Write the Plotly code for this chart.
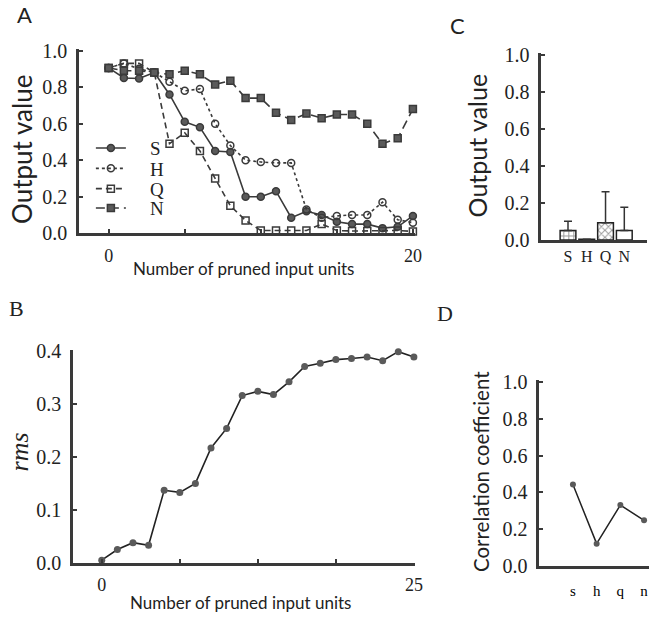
import plotly.graph_objects as go

W, H = 657, 625

# ---------------- data ----------------
# Panel A: output value vs number of pruned input units
pruned_A = [0, 1, 2, 3, 4, 5, 6, 7, 8, 9, 10, 11, 12, 13, 14, 15, 16, 17, 18, 19, 20]
S_vals = [0.905, 0.85, 0.847, 0.88, 0.76, 0.61, 0.58, 0.45, 0.445, 0.20, 0.20,
          0.23, 0.085, 0.12, 0.10, 0.063, 0.05, 0.05, 0.028, 0.035, 0.095]
H_vals = [0.905, 0.93, 0.90, 0.88, 0.83, 0.78, 0.79, 0.60, 0.48, 0.40, 0.39,
          0.385, 0.385, 0.13, 0.085, 0.095, 0.10, 0.10, 0.17, 0.074, 0.058]
Q_vals = [0.905, 0.93, 0.93, 0.88, 0.49, 0.55, 0.45, 0.30, 0.15, 0.07, 0.015,
          0.015, 0.015, 0.015, 0.05, 0.015, 0.012, 0.012, 0.012, 0.015, 0.01]
N_vals = [0.905, 0.89, 0.89, 0.88, 0.87, 0.89, 0.87, 0.815, 0.835, 0.74, 0.74,
          0.66, 0.62, 0.655, 0.63, 0.65, 0.65, 0.60, 0.49, 0.52, 0.68]

# Panel B: rms vs number of pruned input units
pruned_B = [0, 1.25, 2.5, 3.75, 5, 6.25, 7.5, 8.75, 10, 11.25, 12.5, 13.75, 15,
            16.25, 17.5, 18.75, 20, 21.25, 22.5, 23.75, 25]
rms_vals = [0.005, 0.025, 0.038, 0.033, 0.137, 0.133, 0.15, 0.217, 0.254, 0.316,
            0.324, 0.318, 0.342, 0.371, 0.377, 0.384, 0.386, 0.389, 0.382, 0.399, 0.389]

# Panel C: mean output value per class with error bars
classes_C = ["S", "H", "Q", "N"]
mean_C = [0.052, 0.004, 0.094, 0.052]
err_C = [0.05, 0.0, 0.168, 0.126]
patterns_C = ["+", "", "x", ""]

# Panel D: correlation coefficient per class
classes_D = ["s", "h", "q", "n"]
corr_D = [0.442, 0.12, 0.33, 0.247]

# ---------------- helpers ----------------
def fx(p):
    return p / W

def fy(p):
    return 1 - p / H

LINE = "#3a3a3a"
MARK = "#5a5a5a"
SERIF = "Liberation Serif"
SANS = "Lato"
NB = "\u00a0"

def tf(size):
    return dict(family=SERIF, size=size, color="#222")

fig = go.Figure()

# Panel A traces, each with its own legend row
specA = [
    ("S", S_vals, "solid", "circle", MARK, "legend", 143),
    ("H", H_vals, "dot", "circle-open", LINE, "legend2", 164),
    ("Q", Q_vals, "6px,4px", "square-open", LINE, "legend3", 185),
    ("N", N_vals, "9px,5px", "square", MARK, "legend4", 205),
]
legend_layouts = {}
for name, vals, dash, sym, mcol, leg, row in specA:
    fig.add_trace(go.Scatter(
        x=pruned_A, y=vals, name=NB * 4 + name, mode="lines+markers",
        line=dict(color=LINE, width=1.6, dash=dash),
        marker=dict(symbol=sym, size=7, color=mcol,
                    line=dict(color=LINE, width=1.5)),
        cliponaxis=False, xaxis="x", yaxis="y", showlegend=True, legend=leg,
    ))
    legend_layouts[leg] = dict(x=fx(92), y=fy(row), xanchor="left", yanchor="middle",
                               bgcolor="rgba(0,0,0,0)", borderwidth=0,
                               font=dict(family=SERIF, size=19, color="#222"),
                               itemwidth=30)

# Panel B
fig.add_trace(go.Scatter(
    x=pruned_B, y=rms_vals, mode="lines+markers",
    line=dict(color="#222", width=1.6),
    marker=dict(symbol="circle", size=7, color=MARK),
    cliponaxis=False, xaxis="x2", yaxis="y2", showlegend=False,
))

# Panel C
fig.add_trace(go.Bar(
    x=[0, 1, 2, 3], y=mean_C, width=0.84,
    marker=dict(color="white", line=dict(color="#222", width=1.5),
                pattern=dict(shape=patterns_C, fgcolor="#333", bgcolor="white",
                             size=5, solidity=0.35)),
    error_y=dict(type="data", array=err_C, arrayminus=[0, 0, 0, 0],
                 symmetric=False, color="#333", thickness=1.5, width=4),
    xaxis="x3", yaxis="y3", showlegend=False,
))

# Panel D
fig.add_trace(go.Scatter(
    x=[0, 1, 2, 3], y=corr_D, mode="lines+markers",
    line=dict(color="#222", width=1.5),
    marker=dict(symbol="circle", size=6, color=MARK),
    cliponaxis=False, xaxis="x4", yaxis="y4", showlegend=False,
))

def ax(**kw):
    d = dict(showline=True, linewidth=2.5, linecolor=LINE, ticks="inside",
             ticklen=4, tickwidth=1.5, tickcolor=LINE, showgrid=False,
             zeroline=False, fixedrange=True, tickfont=tf(20))
    d.update(kw)
    return d

yt = [0, 0.2, 0.4, 0.6, 0.8, 1.0]
ytt = ["0.0", "0.2", "0.4", "0.6", "0.8", "1.0"]

fig.update_layout(
    # Panel A axes: 0 at px 110, 15.4 px/unit; y 0 at px 231, 1.0 at px 42
    xaxis=ax(domain=[fx(80), fx(420)], range=[(80 - 110) / 15.4, (420 - 110) / 15.4],
             tickvals=[0, 5, 10, 15, 20], ticktext=["0", "", "", "", "20"],
             tickfont=tf(18), anchor="y", ticklabelstandoff=4),
    yaxis=ax(domain=[fy(231), fy(40)], range=[0, 191 / 189],
             tickvals=yt, ticktext=ytt, tickfont=tf(20),
             anchor="x", ticklabelstandoff=5),
    # Panel B axes: 0 at px 103, 12.64 px/unit; y 0 at 572, 0.4 at 353
    xaxis2=ax(domain=[fx(74), fx(420)], range=[(74 - 103) / 12.64, (420 - 103) / 12.64],
              tickvals=[0, 6.25, 12.5, 18.75, 25], ticktext=["0", "", "", "", "25"],
              tickfont=tf(18), anchor="y2", ticklabelstandoff=4),
    yaxis2=ax(domain=[fy(572), fy(352)], range=[0, 220 / 547.5],
              tickvals=[0, 0.1, 0.2, 0.3, 0.4],
              ticktext=["0.0", "0.1", "0.2", "0.3", "0.4"], tickfont=tf(20),
              anchor="x2", ticklabelstandoff=5),
    # Panel C axes
    xaxis3=ax(domain=[fx(548), fx(655)], range=[(548 - 575) / 19.0, (655 - 575) / 19.0],
              tickvals=[0, 1, 2, 3], ticktext=classes_C, ticks="",
              tickfont=tf(16), anchor="y3", ticklabelstandoff=0),
    yaxis3=ax(domain=[fy(238), fy(45)], range=[0, 193 / 191],
              tickvals=yt, ticktext=ytt, tickfont=tf(20),
              anchor="x3", ticklabelstandoff=5),
    # Panel D axes
    xaxis4=ax(domain=[fx(546), fx(657)], range=[(546 - 580) / 24.0, (657 - 580) / 24.0],
              tickvals=[0, 1, 2, 3], ticktext=classes_D, ticks="",
              tickfont=dict(family=SERIF, size=15, color="#000"),
              anchor="y4", ticklabelstandoff=10),
    yaxis4=ax(domain=[fy(575), fy(383)], range=[0, 192 / 190],
              tickvals=yt, ticktext=ytt, tickfont=tf(20),
              anchor="x4", ticklabelstandoff=5),
)

annotations = [
    # panel letters
    dict(text="A", x=fx(25), y=fy(5), font=dict(family=SANS, size=22)),
    dict(text="C", x=fx(463), y=fy(16), font=dict(family=SANS, size=22)),
    dict(text="B", x=fx(17), y=fy(309), font=dict(family=SERIF, size=22)),
    dict(text="D", x=fx(450), y=fy(314), font=dict(family=SERIF, size=22)),
    # axis titles
    dict(text="Output value", x=fx(22), y=fy(144), textangle=-90,
         font=dict(family=SANS, size=26)),
    dict(text="Number of pruned input units", x=fx(247), y=fy(268),
         font=dict(family=SANS, size=17)),
    dict(text="Output value", x=fx(483), y=fy(140), textangle=-90,
         font=dict(family=SANS, size=25)),
    dict(text="<i>rms</i>", x=fx(20), y=fy(457), textangle=-90,
         font=dict(family=SERIF, size=26)),
    dict(text="Number of pruned input units", x=fx(243), y=fy(613),
         font=dict(family=SANS, size=17)),
    dict(text="Correlation coefficient", x=fx(487), y=fy(478), textangle=-90,
         font=dict(family=SANS, size=20.5)),
]
for a in annotations:
    a.update(xref="paper", yref="paper", showarrow=False,
             xanchor="center", yanchor="middle")
    a["font"]["color"] = "#222"

fig.update_layout(
    width=W, height=H, margin=dict(l=0, r=0, t=0, b=0),
    paper_bgcolor="white", plot_bgcolor="white",
    annotations=annotations,
    showlegend=True,
    **legend_layouts,
)

fig.write_html("out.html")
